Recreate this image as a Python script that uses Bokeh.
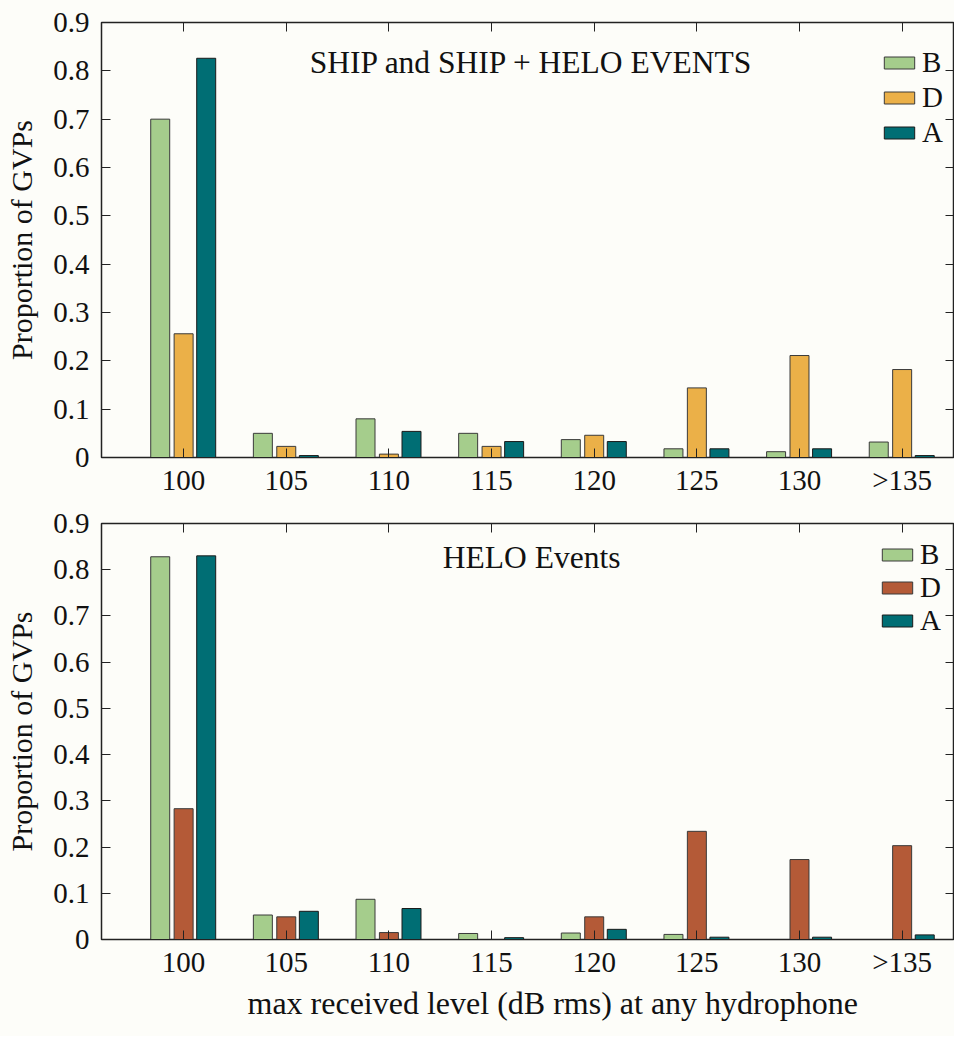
from bokeh.embed import file_html
from bokeh.layouts import column
from bokeh.models import (ColumnDataSource, FixedTicker, Label, Legend,
                          LegendItem, LinearAxis, Range1d, Title)
from bokeh.plotting import figure
from bokeh.resources import INLINE
from bokeh.transform import dodge

levels = ["100", "105", "110", "115", "120", "125", "130", ">135"]
y_ticks = [0, 0.1, 0.2, 0.3, 0.4, 0.5, 0.6, 0.7, 0.8, 0.9]

# SHIP and SHIP + HELO events
ship_b = [0.700, 0.050, 0.080, 0.050, 0.037, 0.018, 0.012, 0.032]
ship_d = [0.256, 0.023, 0.007, 0.023, 0.046, 0.144, 0.211, 0.182]
ship_a = [0.826, 0.004, 0.054, 0.033, 0.033, 0.018, 0.018, 0.004]

# HELO events
helo_b = [0.828, 0.053, 0.087, 0.013, 0.014, 0.011, 0.0, 0.0]
helo_d = [0.283, 0.049, 0.015, 0.0, 0.049, 0.234, 0.173, 0.203]
helo_a = [0.830, 0.061, 0.067, 0.004, 0.022, 0.005, 0.005, 0.010]

GREEN = "#a5cd8c"
ORANGE = "#ebb048"
TEAL = "#006e74"
RUST = "#b45a37"
BG = "#fdfdf9"
FONT = "Liberation Serif"


def panel(b, d, a, d_color, title, title_y, legend_loc, legend_spacing,
          frame_height, top, bottom, xlabel=None):
    src = ColumnDataSource(dict(x=list(range(1, len(levels) + 1)), b=b, d=d, a=a))
    p = figure(frame_width=853, frame_height=frame_height,
               x_range=Range1d(0.2, 8.51), y_range=Range1d(0, 0.9),
               min_border_left=101, min_border_right=0, min_border_top=top,
               min_border_bottom=bottom, output_backend="svg",
               toolbar_location=None, background_fill_color=BG,
               border_fill_color=BG)
    p.grid.visible = False
    p.outline_line_color = "#222222"
    p.outline_line_width = 1.5

    rb = p.vbar(x=dodge("x", -0.228, range=p.x_range), top="b", width=0.185,
                source=src, fill_color=GREEN, line_color="#3a3a3a")
    rd = p.vbar(x=dodge("x", 0.0, range=p.x_range), top="d", width=0.185,
                source=src, fill_color=d_color, line_color="#3a3a3a")
    ra = p.vbar(x=dodge("x", 0.22, range=p.x_range), top="a", width=0.185,
                source=src, fill_color=TEAL, line_color="#1a1a1a")

    xt = FixedTicker(ticks=list(range(1, len(levels) + 1)))
    yt = FixedTicker(ticks=y_ticks)
    xb = p.below[0]
    yl = p.left[0]
    xb.ticker = xt
    xb.major_label_overrides = {i + 1: lab for i, lab in enumerate(levels)}
    yl.ticker = yt
    yl.major_label_overrides = {t: ("0" if t == 0 else str(t)) for t in y_ticks}
    yl.axis_label = "Proportion of GVPs"

    top_ax = LinearAxis(ticker=xt, major_label_overrides={i + 1: "" for i in range(len(levels))})
    right_ax = LinearAxis(ticker=yt, major_label_overrides={t: "" for t in y_ticks})
    p.add_layout(top_ax, "above")
    p.add_layout(right_ax, "right")

    for ax in (xb, yl, top_ax, right_ax):
        ax.major_tick_in = 9
        ax.major_tick_out = 0
        ax.minor_tick_in = 0
        ax.minor_tick_out = 0
        ax.axis_line_color = "#222222"
        ax.major_tick_line_color = "#222222"
        ax.major_label_text_font = FONT
        ax.axis_label_text_font = FONT
        ax.axis_label_text_font_style = "normal"
        ax.axis_label_text_font_size = "30px"
        ax.axis_label_text_color = "#111111"
        ax.major_label_text_color = "#111111"
        ax.major_label_text_font_size = "29px"
    for ax in (top_ax, right_ax):
        ax.major_label_standoff = 0
        ax.axis_label_standoff = 0
    xb.major_label_standoff = 6
    yl.major_label_standoff = 12
    yl.axis_label_standoff = 12

    if xlabel:
        # the x label sits right of the frame centre in the source figure
        p.add_layout(Title(text=xlabel, align="left", offset=146, standoff=4,
                           text_font=FONT, text_font_size="32px",
                           text_font_style="normal", text_color="#111111"),
                     "below")

    p.add_layout(Label(x=4.39, y=title_y, text=title, text_align="center",
                       text_baseline="middle", text_font=FONT,
                       text_font_size="31.5px", text_color="#111111"))

    legend = Legend(items=[LegendItem(label="B", renderers=[rb]),
                           LegendItem(label="D", renderers=[rd]),
                           LegendItem(label="A", renderers=[ra])],
                    location=legend_loc, glyph_width=38, glyph_height=15,
                    label_standoff=4, label_height=30, spacing=legend_spacing,
                    padding=0, margin=0, border_line_color=None,
                    background_fill_alpha=0, label_text_font=FONT,
                    label_text_font_size="29px", label_text_color="#111111")
    p.add_layout(legend)
    return p


p1 = panel(ship_b, ship_d, ship_a, ORANGE, "SHIP and SHIP + HELO EVENTS",
           0.817, (779, 308), 2, 435, 22, 51)
p2 = panel(helo_b, helo_d, helo_a, RUST, "HELO Events", 0.826, (777, 302),
           0, 416, 15, 97, xlabel="max received level (dB rms) at any hydrophone")

page = column(p1, p2, spacing=0, background=BG)
open("out.html", "w").write(file_html(page, INLINE))
